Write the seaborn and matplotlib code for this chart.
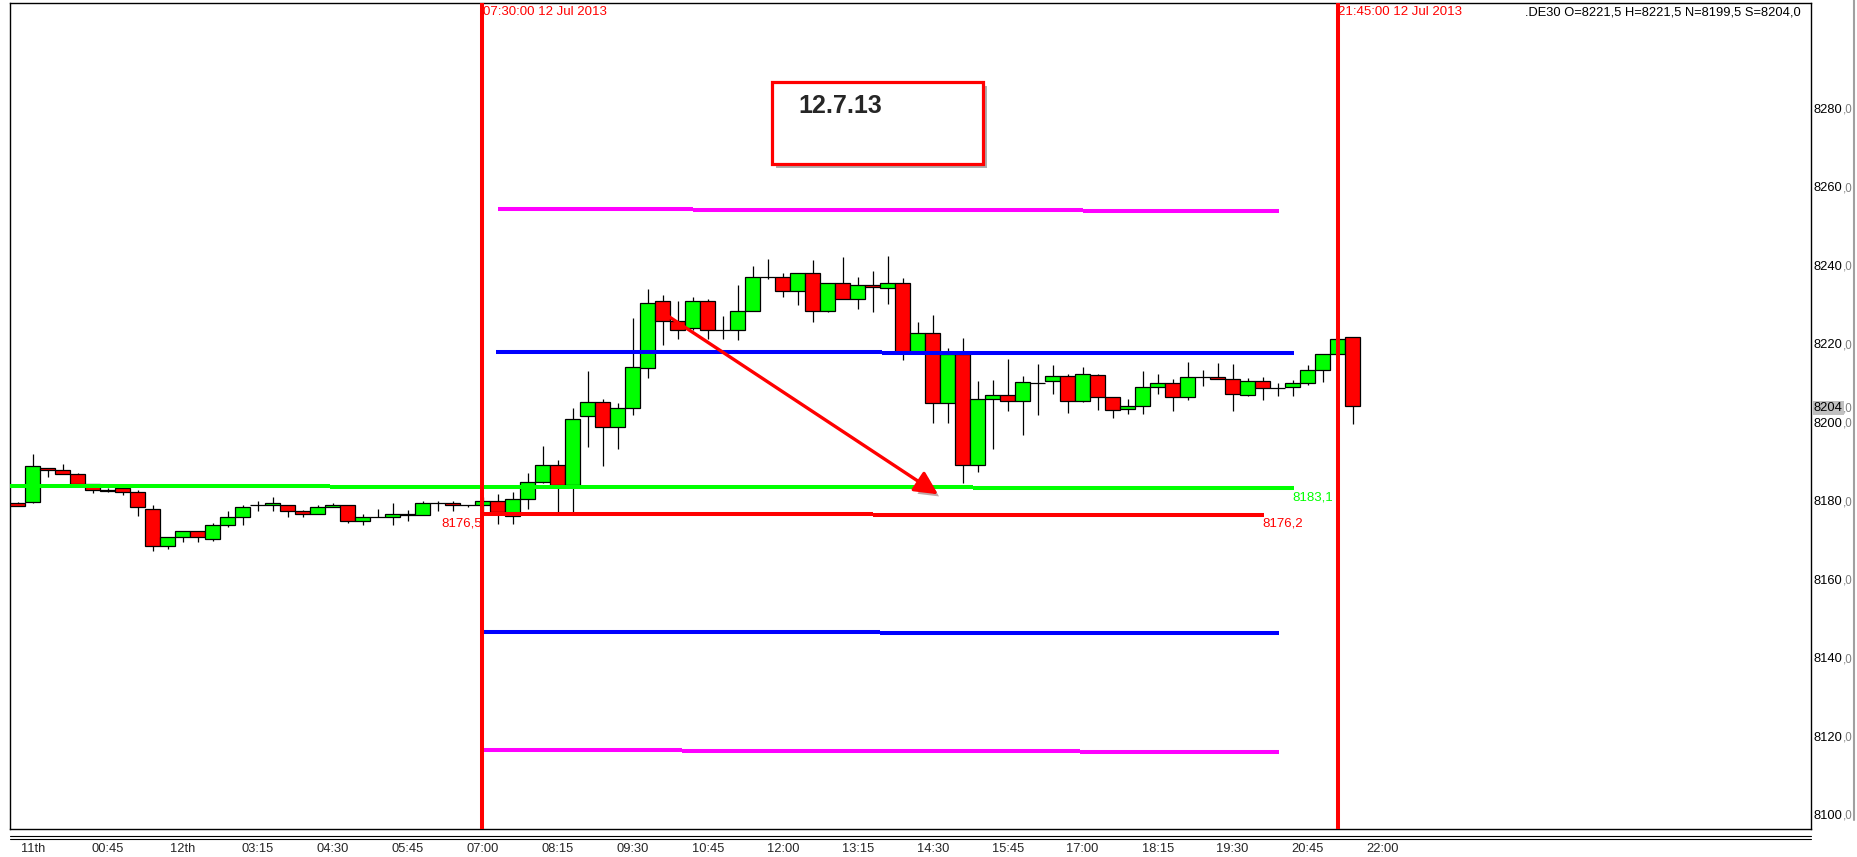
import numpy as np
import matplotlib
matplotlib.use("Agg")
import matplotlib.pyplot as plt
import matplotlib.patheffects as pe
from matplotlib.patches import Rectangle
from matplotlib.lines import Line2D
from matplotlib import font_manager
import seaborn as sns

# 15-minute candles, index 0..89 (last one = 21:45 bar)
opens = [8179.2, 8179.6, 8188.1, 8187.6, 8186.6, 8184.0, 8182.5, 8183.2, 8182.0, 8177.7,
         8168.2, 8170.5, 8172.1, 8170.0, 8173.6, 8175.6, 8178.7, 8178.7, 8178.7, 8177.2,
         8176.6, 8178.2, 8178.7, 8174.6, 8175.6, 8175.6, 8176.6, 8176.1, 8179.2, 8179.2,
         8178.7, 8178.7, 8179.7, 8176.0, 8180.2, 8184.6, 8188.9, 8183.8, 8201.5, 8205.1,
         8198.6, 8203.4, 8213.6, 8230.7, 8225.6, 8223.8, 8230.7, 8223.3, 8223.3, 8228.2,
         8236.8, 8236.8, 8233.3, 8237.8, 8228.2, 8235.3, 8231.2, 8234.8, 8234.0, 8235.5,
         8217.9, 8222.7, 8204.7, 8217.4, 8188.9, 8205.7, 8206.7, 8205.2, 8210.0, 8210.3,
         8211.7, 8205.2, 8211.8, 8206.2, 8203.2, 8203.9, 8208.8, 8209.8, 8206.2, 8211.3,
         8211.3, 8210.8, 8206.7, 8210.5, 8208.5, 8208.8, 8209.8, 8213.1, 8217.2, 8221.5]
highs = [8179.5, 8191.8, 8188.3, 8189.2, 8187.0, 8184.2, 8183.2, 8183.4, 8182.6, 8178.8,
         8170.5, 8172.1, 8172.1, 8174.1, 8177.2, 8178.8, 8179.7, 8180.7, 8178.7, 8177.6,
         8178.7, 8179.2, 8178.7, 8176.6, 8177.7, 8179.2, 8177.6, 8179.7, 8179.7, 8179.7,
         8178.7, 8180.7, 8181.7, 8182.0, 8186.9, 8193.8, 8190.3, 8203.4, 8213.0, 8205.7,
         8204.7, 8226.4, 8233.8, 8232.3, 8230.8, 8231.7, 8231.2, 8227.0, 8234.9, 8239.7,
         8241.5, 8237.8, 8237.8, 8241.2, 8235.3, 8242.1, 8236.8, 8238.4, 8242.3, 8236.6,
         8225.5, 8227.2, 8218.7, 8221.3, 8210.4, 8210.7, 8215.9, 8211.7, 8214.7, 8214.5,
         8212.3, 8214.0, 8212.3, 8206.4, 8205.8, 8212.9, 8212.2, 8210.9, 8215.2, 8213.2,
         8215.0, 8214.7, 8211.2, 8211.5, 8209.9, 8210.6, 8214.5, 8217.2, 8221.3, 8221.5]
lows = [8178.4, 8179.2, 8186.0, 8186.6, 8184.0, 8181.9, 8182.2, 8181.2, 8176.0, 8167.1,
        8167.6, 8169.4, 8169.4, 8169.5, 8173.1, 8173.6, 8177.2, 8177.2, 8175.6, 8175.6,
        8176.6, 8178.2, 8174.1, 8173.6, 8175.6, 8173.6, 8174.6, 8176.1, 8177.2, 8177.2,
        8178.2, 8176.6, 8173.9, 8173.9, 8177.7, 8184.3, 8177.1, 8177.1, 8193.6, 8188.8,
        8193.0, 8201.8, 8211.2, 8219.6, 8221.0, 8223.3, 8221.0, 8221.0, 8220.8, 8228.2,
        8236.3, 8231.7, 8229.7, 8225.5, 8228.0, 8231.2, 8228.7, 8228.1, 8229.9, 8215.7,
        8217.9, 8199.6, 8199.6, 8184.3, 8187.3, 8193.1, 8202.8, 8196.7, 8201.8, 8207.2,
        8202.3, 8205.0, 8203.0, 8201.0, 8201.9, 8202.1, 8207.2, 8202.8, 8205.5, 8209.0,
        8210.8, 8202.8, 8206.5, 8205.5, 8206.6, 8206.6, 8209.3, 8210.2, 8217.2, 8199.5]
closes = [8178.6, 8188.7, 8187.6, 8186.6, 8184.0, 8182.5, 8182.3, 8182.0, 8178.2, 8168.2,
          8170.5, 8172.1, 8170.5, 8173.6, 8175.6, 8178.2, 8178.7, 8179.2, 8177.2, 8176.6,
          8178.2, 8178.7, 8174.6, 8175.6, 8175.6, 8176.6, 8176.1, 8179.2, 8179.2, 8178.7,
          8178.7, 8179.7, 8176.9, 8180.2, 8184.6, 8188.9, 8183.8, 8200.8, 8205.1, 8198.6,
          8203.4, 8213.9, 8230.2, 8225.6, 8223.3, 8230.7, 8223.3, 8223.3, 8228.2, 8236.8,
          8236.8, 8233.3, 8237.8, 8228.2, 8235.3, 8231.2, 8234.8, 8234.3, 8235.5, 8217.9,
          8222.7, 8204.7, 8217.4, 8188.9, 8205.7, 8206.7, 8205.2, 8210.1, 8209.9, 8211.7,
          8205.2, 8212.1, 8206.2, 8202.9, 8203.9, 8208.8, 8209.8, 8206.2, 8211.3, 8211.3,
          8210.8, 8207.2, 8210.5, 8208.5, 8208.5, 8209.8, 8213.1, 8217.2, 8221.1, 8204.0]

time_labels = ["11th", "00:45", "12th", "03:15", "04:30", "05:45", "07:00", "08:15", "09:30",
               "10:45", "12:00", "13:15", "14:30", "15:45", "17:00", "18:15", "19:30", "20:45", "22:00"]
time_label_pos = [1, 6, 11, 16, 21, 26, 31, 36, 41, 46, 51, 56, 61, 66, 71, 76, 81, 86, 91]

price_ticks = [8100, 8120, 8140, 8160, 8180, 8200, 8220, 8240, 8260, 8280]
last_price = 8204

# horizontal levels: segment breaks (candle index) and value per segment
magenta_up_breaks = [32.0, 45.0, 71.0, 84.07]
magenta_up_vals = [8254.2, 8254.0, 8253.7]
blue_up_breaks = [31.9, 57.6, 85.07]
blue_up_vals = [8217.8, 8217.6]
green_breaks = [-0.55, 20.8, 63.7, 85.07]
green_vals = [8183.5, 8183.25, 8183.0]
red_breaks = [30.9, 57.0, 83.1]
red_vals = [8176.5, 8176.2]
blue_low_breaks = [31.1, 57.5, 84.07]
blue_low_vals = [8146.4, 8146.1]
magenta_low_breaks = [31.1, 44.3, 70.8, 84.07]
magenta_low_vals = [8116.4, 8116.1, 8115.8]

session_lines = [30.93, 88.0]
session_texts = ["07:30:00 12 Jul 2013", "21:45:00 12 Jul 2013"]

arrow_start = (43.25, 8227.2)
arrow_end = (61.35, 8181.5)

sns.set_style("white")
names = {f.name for f in font_manager.fontManager.ttflist}
NARROW = "Liberation Sans Narrow" if "Liberation Sans Narrow" in names else "Liberation Sans"
plt.rcParams["font.family"] = [NARROW, "DejaVu Sans"]
SMALL = 10 if NARROW == "Liberation Sans Narrow" else 9.3

W, H = 1857, 857
fig = plt.figure(figsize=(W / 100, H / 100), dpi=100)
ax = fig.add_axes([10 / W, 1 - 829 / H, 1801 / W, 826 / H])
ax.set_xlim(-0.533, 119.57)
ax.set_ylim(8096.16, 8306.77)
for s in ax.spines.values():
    s.set_color("black")
    s.set_linewidth(1.0)

k = np.arange(len(opens))
o = np.array(opens)
c = np.array(closes)
colors = ["#00FF00" if cc >= oo else "#FF0000" for oo, cc in zip(o, c)]
ax.vlines(k, lows, highs, color="black", lw=0.9, zorder=2)
ax.bar(k, np.abs(c - o), bottom=np.minimum(o, c), width=1.0, color=colors,
       edgecolor="black", linewidth=0.9, zorder=3)


def level(breaks, vals, color):
    for i, v in enumerate(vals):
        ax.plot([breaks[i], breaks[i + 1]], [v, v], color=color, lw=2.9,
                solid_capstyle="butt", zorder=4)


level(magenta_up_breaks, magenta_up_vals, "#FF00FF")
level(blue_up_breaks, blue_up_vals, "#0000FF")
level(green_breaks, green_vals, "#00FF00")
level(red_breaks, red_vals, "#FF0000")
level(blue_low_breaks, blue_low_vals, "#0000FF")
level(magenta_low_breaks, magenta_low_vals, "#FF00FF")

ax.text(30.93, 8173.4, "8176,5", color="#FF0000", ha="right", va="baseline", fontsize=9.5)
ax.text(85.0, 8179.9, "8183,1", color="#00FF00", ha="left", va="baseline", fontsize=9.5)
ax.text(83.0, 8173.2, "8176,2", color="#FF0000", ha="left", va="baseline", fontsize=9.5)

# arrow with drop shadow
arr = ax.annotate("", xy=arrow_end, xytext=arrow_start,
                  arrowprops=dict(arrowstyle="-|>,head_length=0.5,head_width=0.25",
                                  color="#FF0000", lw=2.4,
                                  mutation_scale=28, shrinkA=0, shrinkB=0), zorder=6)
arr.arrow_patch.set_path_effects([pe.SimplePatchShadow(offset=(3, -3), alpha=0.35), pe.Normal()])

# annotation box
box = Rectangle((50.25, 8265.7), 14.1, 21.0, facecolor="white", edgecolor="#FF0000",
                lw=2.3, zorder=6)
box.set_path_effects([pe.SimplePatchShadow(offset=(3, -3), alpha=0.45), pe.Normal()])
ax.add_patch(box)
ax.text(52.05, 8278.8, "12.7.13", ha="left", va="baseline", fontsize=18,
        fontweight="bold", family=["Liberation Sans", "DejaVu Sans"], zorder=7)

# session lines
for x, t in zip(session_lines, session_texts):
    ax.axvline(x, color="#FF0000", lw=2.9, zorder=8)
    ax.text(x + 0.05, 8303.6, t, color="#FF0000", ha="left", va="baseline", fontsize=9.5)

ax.text(100.5, 8303.5, ".DE30 O=8221,5 H=8221,5 N=8199,5 S=8204,0", color="black",
        ha="left", va="baseline", fontsize=SMALL)

# time axis
ax.set_xticks(time_label_pos)
ax.set_xticklabels(time_labels, fontsize=SMALL)
ax.tick_params(axis="x", length=0, pad=10)
ax.set_yticks([])

# price axis: black number + grey ",0"
fig.canvas.draw()
renderer = fig.canvas.get_renderer()
ytr = ax.get_yaxis_transform()
for v in price_ticks + [last_price]:
    kw = {}
    if v == last_price:
        kw["bbox"] = dict(boxstyle="square,pad=0.1", fc="#C0C0C0", ec="none")
    t = ax.annotate(str(v), xy=(1, v), xycoords=ytr, xytext=(3, -5),
                    textcoords="offset pixels", ha="left", va="baseline",
                    fontsize=SMALL, color="black", annotation_clip=False, **kw)
    ext = t.get_window_extent(renderer)
    ax.annotate(",0", xy=(1, v), xycoords=ytr, xytext=(3 + ext.width, -5),
                textcoords="offset pixels", ha="left", va="baseline",
                fontsize=SMALL - 1, color="#808080", annotation_clip=False)

# double rule under the plot and right grey edge
for yy in (836, 839):
    fig.add_artist(Line2D([10 / W, 1811 / W], [1 - yy / H] * 2, color="black", lw=0.8,
                          transform=fig.transFigure))
fig.add_artist(Line2D([1854 / W] * 2, [1 - 820 / H, 1.0], color="#A0A0A0", lw=1.5,
                      transform=fig.transFigure))

fig.savefig("out.png", dpi=100, facecolor="white")
